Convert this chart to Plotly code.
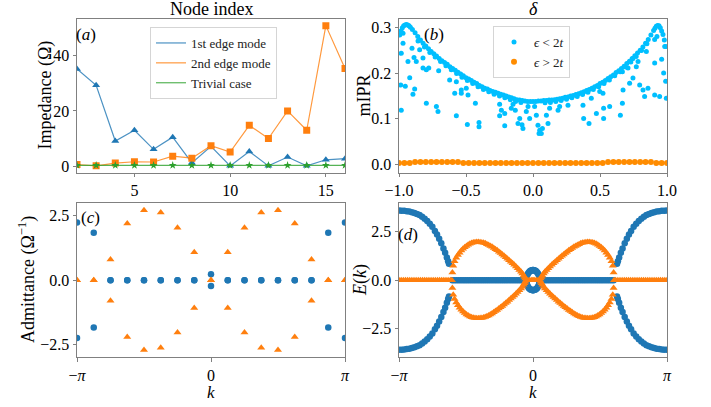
import numpy as np
import plotly.graph_objects as go

SERIF = "Liberation Serif"
PI = np.pi

# ---------------- Panel (a): impedance vs node index ----------------
node_index = [2, 3, 4, 5, 6, 7, 8, 9, 10, 11, 12, 13, 14, 15, 16]
z_edge1 = [35.2, 29.3, 9.1, 13.0, 6.1, 10.5, 1.2, 7.2, 0.1, 5.3, 0.1, 3.3, 0.1, 2.3, 2.7]
z_edge2 = [0.6, 0.1, 1.1, 1.6, 1.5, 3.6, 2.9, 7.4, 5.1, 14.8, 10.0, 20.0, 13.0, 50.9, 35.4]
z_trivial = [0.3, 0.3, 0.3, 0.3, 0.3, 0.3, 0.3, 0.3, 0.3, 0.3, 0.3, 0.3, 0.3, 0.3, 0.3]
legend_a = ["1st edge mode", "2nd edge mode", "Trivial case"]

# ---------------- Panel (b): mIPR vs delta ----------------
mipr_curve_delta = [-0.995, -0.985, -0.975, -0.965, -0.955, -0.945, -0.935, -0.925, -0.915, -0.90,
                    -0.88, -0.86, -0.84, -0.82, -0.80, -0.78, -0.76, -0.74, -0.72, -0.70,
                    -0.68, -0.66, -0.64, -0.62, -0.60, -0.58, -0.56, -0.54, -0.52, -0.50,
                    -0.48, -0.46, -0.44, -0.42, -0.40, -0.38, -0.36, -0.34, -0.32, -0.30,
                    -0.28, -0.26, -0.24, -0.22, -0.20, -0.18, -0.16, -0.14, -0.12, -0.10,
                    -0.08, -0.06, -0.04, -0.02,
                    0.00, 0.02, 0.04, 0.06, 0.08, 0.10, 0.12, 0.14, 0.16, 0.18,
                    0.20, 0.22, 0.24, 0.26, 0.28, 0.30, 0.32, 0.34, 0.36, 0.38,
                    0.40, 0.42, 0.44, 0.46, 0.48, 0.50, 0.52, 0.54, 0.56, 0.58,
                    0.60, 0.62, 0.64, 0.66, 0.68, 0.70, 0.72, 0.74, 0.76, 0.78,
                    0.80, 0.82, 0.84, 0.86, 0.88, 0.90, 0.91, 0.92, 0.93, 0.94,
                    0.95, 0.96, 0.97, 0.98, 0.99]
mipr_curve_val = [0.283, 0.292, 0.299, 0.303, 0.305, 0.306, 0.305, 0.303, 0.300, 0.295,
                  0.288, 0.280, 0.272, 0.265, 0.259, 0.253, 0.247, 0.242, 0.237, 0.232,
                  0.227, 0.223, 0.219, 0.214, 0.210, 0.206, 0.202, 0.198, 0.194, 0.190,
                  0.187, 0.184, 0.180, 0.177, 0.173, 0.170, 0.167, 0.165, 0.162, 0.160,
                  0.158, 0.156, 0.154, 0.152, 0.150, 0.148, 0.146, 0.144, 0.142, 0.141,
                  0.140, 0.139, 0.138, 0.138,
                  0.138, 0.138, 0.139, 0.139, 0.140, 0.140, 0.141, 0.141, 0.142, 0.143,
                  0.144, 0.145, 0.147, 0.148, 0.150, 0.151, 0.153, 0.155, 0.157, 0.159,
                  0.162, 0.164, 0.167, 0.170, 0.173, 0.177, 0.180, 0.184, 0.188, 0.192,
                  0.196, 0.201, 0.205, 0.210, 0.215, 0.221, 0.226, 0.232, 0.238, 0.244,
                  0.250, 0.257, 0.265, 0.273, 0.283, 0.293, 0.298, 0.302, 0.304, 0.303,
                  0.299, 0.292, 0.284, 0.272, 0.258]
mipr_band_delta = [-0.85, -0.81, -0.77, -0.73, -0.69, -0.65, -0.61, -0.57, -0.53, -0.49,
                   -0.45, -0.41, -0.37, -0.33, -0.29, -0.25, -0.21, -0.17, -0.13, -0.09,
                   0.09, 0.13, 0.17, 0.21, 0.25, 0.29, 0.33, 0.37, 0.41, 0.45,
                   0.49, 0.53, 0.57, 0.61, 0.65, 0.69, 0.73, 0.77, 0.81, 0.85]
mipr_band_val = [0.271, 0.257, 0.245, 0.235, 0.225, 0.216, 0.207, 0.199, 0.191, 0.184,
                 0.177, 0.170, 0.164, 0.159, 0.154, 0.150, 0.146, 0.142, 0.138, 0.136,
                 0.135, 0.136, 0.138, 0.140, 0.143, 0.146, 0.149, 0.153, 0.158, 0.164,
                 0.170, 0.177, 0.185, 0.194, 0.203, 0.213, 0.224, 0.236, 0.249, 0.264]
mipr_scatter_delta = [-0.970, -0.970, -0.983, -0.903, -0.933, -0.888, -0.858, -0.846, -0.871, -0.821,
                      -0.821, -0.796, -0.778, -0.704, -0.987, -0.953, -0.920, -0.883, -0.896, -0.983,
                      -0.796, -0.721, -0.709, -0.622, -0.572, -0.584, -0.535, -0.535, -0.498, -0.485,
                      -0.572, -0.430, -0.490, -0.403, -0.403, -0.211, -0.249, -0.236, -0.211, -0.249,
                      -0.162, -0.149, -0.132, -0.099, -0.112, -0.082, -0.075, -0.050, -0.037, -0.025,
                      0.012, 0.025, 0.037, 0.050, 0.062, 0.045, 0.070, 0.112, 0.100, 0.124,
                      0.187, 0.199, 0.261, 0.373, 0.378, 0.418, 0.435, 0.473, 0.527, 0.527,
                      0.572, 0.498, 0.522, 0.652, 0.667, 0.672, 0.667, 0.709, 0.746, 0.721,
                      0.796, 0.821, 0.858, 0.833, 0.908, 0.945, 0.746, 0.784, 0.771, 0.908,
                      0.846, 0.908, 0.925, 0.983, 0.990, 0.995, 0.960, 0.975]
mipr_scatter_val = [0.287, 0.265, 0.243, 0.254, 0.225, 0.234, 0.270, 0.251, 0.225, 0.233,
                    0.211, 0.207, 0.211, 0.205, 0.174, 0.171, 0.190, 0.165, 0.154, 0.119,
                    0.134, 0.127, 0.116, 0.185, 0.181, 0.156, 0.163, 0.156, 0.167, 0.152,
                    0.107, 0.134, 0.088, 0.092, 0.083, 0.085, 0.132, 0.119, 0.112, 0.107,
                    0.123, 0.132, 0.119, 0.101, 0.090, 0.087, 0.079, 0.116, 0.127, 0.101,
                    0.127, 0.108, 0.086, 0.075, 0.068, 0.068, 0.079, 0.090, 0.108, 0.123,
                    0.119, 0.127, 0.130, 0.130, 0.101, 0.090, 0.145, 0.112, 0.123, 0.101,
                    0.127, 0.160, 0.156, 0.108, 0.134, 0.163, 0.203, 0.211, 0.189, 0.178,
                    0.174, 0.163, 0.167, 0.149, 0.152, 0.149, 0.232, 0.225, 0.214, 0.222,
                    0.247, 0.273, 0.280, 0.258, 0.182, 0.145, 0.230, 0.200]
mipr_ext_delta = [-1.00, -0.96, -0.92, -0.88, -0.84, -0.80, -0.76, -0.72, -0.68, -0.64,
                  -0.60, -0.56, -0.52, -0.48, -0.44, -0.40, -0.36, -0.32, -0.28, -0.24,
                  -0.20, -0.16, -0.12, -0.08, -0.04, 0.00, 0.04, 0.08, 0.12, 0.16,
                  0.20, 0.24, 0.28, 0.32, 0.36, 0.40, 0.44, 0.48, 0.52, 0.56,
                  0.60, 0.64, 0.68, 0.72, 0.76, 0.80, 0.84, 0.88, 0.92, 0.96, 1.00]
mipr_ext_val = [0.004, 0.004, 0.004, 0.006, 0.006, 0.006, 0.006, 0.006, 0.006, 0.006,
                0.006, 0.006, 0.004, 0.004, 0.004, 0.004, 0.004, 0.004, 0.004, 0.004,
                0.004, 0.004, 0.004, 0.004, 0.004, 0.004, 0.004, 0.004, 0.004, 0.004,
                0.004, 0.004, 0.004, 0.004, 0.004, 0.004, 0.004, 0.004, 0.004, 0.006,
                0.006, 0.006, 0.006, 0.006, 0.006, 0.006, 0.006, 0.006, 0.004, 0.004, 0.004]
legend_b = ["<i>ϵ</i> < 2<i>t</i>", "<i>ϵ</i> > 2<i>t</i>"]

# ---------------- Panel (c): admittance spectrum ----------------
k_c_index = [-8, -7, -6, -5, -4, -3, -2, -1, 0, 1, 2, 3, 4, 5, 6, 7, 8]   # k = n*pi/8
y_c_blue = [2.24, 1.84, 0.0, 0.0, 0.0, 0.0, 0.0, 0.0, 0.23, 0.0, 0.0, 0.0, 0.0, 0.0, 0.0, 1.84, 2.24]
y_c_orange = [0.0, 0.0, 0.80, 2.20, 2.71, 2.62, 2.03, 1.08, 0.0, 1.08, 2.03, 2.62, 2.71, 2.20, 0.80, 0.0, 0.0]

# ---------------- Panel (d): E(k), upper-left quadrant (mirrored) ----------------
d_blue_outer_k = [-3.14, -3.08, -3.02, -2.96, -2.90, -2.84, -2.78, -2.72, -2.66, -2.60, -2.54, -2.48,
                  -2.42, -2.36, -2.30, -2.25, -2.20, -2.15, -2.10, -2.06, -2.02, -1.99, -1.97]
d_blue_outer_e = [3.60, 3.59, 3.58, 3.56, 3.54, 3.51, 3.47, 3.42, 3.36, 3.27, 3.17, 3.05,
                  2.91, 2.76, 2.54, 2.36, 2.14, 1.90, 1.64, 1.42, 1.17, 0.98, 0.85]
d_blue_zero_k = [-1.89, -1.84, -1.79, -1.74, -1.69, -1.64, -1.59, -1.54, -1.49, -1.44, -1.39, -1.34,
                 -1.29, -1.24, -1.19, -1.14, -1.09, -1.04, -0.99, -0.94, -0.89, -0.84, -0.79, -0.74,
                 -0.69, -0.64, -0.59, -0.54, -0.49, -0.44, -0.39, -0.34, -0.29, -0.24, -0.19, -0.16]
d_blue_ring_k = [-0.155, -0.15, -0.14, -0.12, -0.10, -0.08, -0.06, -0.04, -0.02, 0.0]
d_blue_ring_e = [0.0, 0.13, 0.22, 0.33, 0.40, 0.445, 0.48, 0.50, 0.515, 0.52]
d_orange_arc_k = [-1.89, -1.87, -1.84, -1.80, -1.76, -1.72, -1.68, -1.64, -1.60, -1.56, -1.52, -1.48,
                  -1.44, -1.40, -1.36, -1.32, -1.28, -1.24, -1.20, -1.16, -1.12, -1.08, -1.04, -1.00,
                  -0.96, -0.92, -0.88, -0.84, -0.80, -0.76, -0.72, -0.68, -0.64, -0.60, -0.56, -0.52,
                  -0.48, -0.44, -0.40, -0.36, -0.32, -0.28, -0.25, -0.22, -0.20, -0.18]
d_orange_arc_e = [0.40, 0.75, 0.98, 1.16, 1.30, 1.42, 1.53, 1.62, 1.70, 1.77, 1.83, 1.88,
                  1.92, 1.94, 1.96, 1.97, 1.97, 1.96, 1.95, 1.93, 1.90, 1.86, 1.82, 1.77,
                  1.72, 1.66, 1.60, 1.54, 1.47, 1.40, 1.33, 1.26, 1.18, 1.11, 1.03, 0.95,
                  0.87, 0.79, 0.70, 0.61, 0.52, 0.43, 0.34, 0.24, 0.16, 0.08]
d_orange_zero_k = [-3.14, -3.09, -3.04, -2.99, -2.94, -2.89, -2.84, -2.79, -2.74, -2.69, -2.64, -2.59,
                   -2.54, -2.49, -2.44, -2.39, -2.34, -2.29, -2.24, -2.19, -2.14, -2.09, -2.04, -1.99,
                   -1.94, -1.90, -0.16, -0.12, -0.08, -0.04, 0.0]


def mirror4(ks, es):
    """Mirror an upper-left-quadrant branch into all four quadrants."""
    kk = list(ks) + [-v for v in ks] + list(ks) + [-v for v in ks]
    ee = list(es) + list(es) + [-v for v in es] + [-v for v in es]
    return kk, ee


def mirror_k(ks):
    return list(ks) + [-v for v in ks]


TAB_BLUE = "#1f77b4"
TAB_ORANGE = "#ff7f0e"
TAB_GREEN = "#2ca02c"
SKY = "#00bfff"
DORANGE = "#ff8c00"

fig = go.Figure()

# ---- (a)
line_cols = ["rgba(31,119,180,0.8)", "rgba(255,127,14,0.8)", "rgba(44,160,44,0.8)"]
mk_cols = [TAB_BLUE, TAB_ORANGE, TAB_GREEN]
symbols = ["triangle-up", "square", "star"]
sizes = [7, 7, 6]
for ys, name, lc, mc, sym, sz in zip([z_edge1, z_edge2, z_trivial], legend_a, line_cols, mk_cols, symbols, sizes):
    fig.add_trace(go.Scatter(x=node_index, y=ys, mode="lines", name=name,
                             line=dict(color=lc, width=1.2), xaxis="x", yaxis="y", legend="legend"))
    fig.add_trace(go.Scatter(x=node_index, y=ys, mode="markers", showlegend=False,
                             marker=dict(color=mc, symbol=sym, size=sz, line=dict(width=0)),
                             xaxis="x", yaxis="y"))

# ---- (b)
fig.add_trace(go.Scatter(x=mipr_curve_delta + mipr_band_delta + mipr_scatter_delta,
                         y=mipr_curve_val + mipr_band_val + mipr_scatter_val,
                         mode="markers", name=legend_b[0],
                         marker=dict(color=SKY, size=5, line=dict(width=0)),
                         xaxis="x2", yaxis="y2", legend="legend2"))
fig.add_trace(go.Scatter(x=mipr_ext_delta, y=mipr_ext_val, mode="markers", name=legend_b[1],
                         marker=dict(color=DORANGE, size=6, line=dict(width=0)),
                         xaxis="x2", yaxis="y2", legend="legend2"))

# ---- (c)
k_c = [n * PI / 8 for n in k_c_index]
fig.add_trace(go.Scatter(x=k_c + k_c, y=y_c_blue + [-v for v in y_c_blue], mode="markers", showlegend=False,
                         marker=dict(color=TAB_BLUE, symbol="circle", size=6.5, line=dict(width=0)),
                         xaxis="x3", yaxis="y3"))
fig.add_trace(go.Scatter(x=k_c + k_c, y=y_c_orange + [-v for v in y_c_orange], mode="markers", showlegend=False,
                         marker=dict(color=TAB_ORANGE, symbol="triangle-up", size=7, line=dict(width=0)),
                         xaxis="x3", yaxis="y3"))

# ---- (d)
bk, be = mirror4(d_blue_outer_k, d_blue_outer_e)
rk, re_ = mirror4(d_blue_ring_k, d_blue_ring_e)
zk = mirror_k(d_blue_zero_k)
fig.add_trace(go.Scatter(x=bk + rk + zk, y=be + re_ + [0.0] * len(zk), mode="markers", showlegend=False,
                         marker=dict(color=TAB_BLUE, symbol="circle", size=6.5, line=dict(width=0)),
                         xaxis="x4", yaxis="y4"))
ak, ae = mirror4(d_orange_arc_k, d_orange_arc_e)
ozk = mirror_k(d_orange_zero_k)
fig.add_trace(go.Scatter(x=ak + ozk, y=ae + [0.0] * len(ozk), mode="markers", showlegend=False,
                         marker=dict(color=TAB_ORANGE, symbol="triangle-up", size=7, line=dict(width=0)),
                         xaxis="x4", yaxis="y4"))

W, H = 711, 407


def px_x(p):
    return p / W


def px_y(p):
    return 1 - p / H


common = dict(showline=True, mirror=True, linecolor="#808080", linewidth=1, ticks="outside",
              ticklen=3.5, tickcolor="#808080", tickwidth=1, showgrid=False, zeroline=False,
              automargin=False,
              tickfont=dict(family=SERIF, size=16, color="black"))

dom_left = [px_x(77), px_x(345)]
dom_right = [px_x(399), px_x(667)]
dom_top = [px_y(172.5), px_y(19)]
dom_bot = [px_y(357), px_y(203.3)]

fig.update_layout(
    width=W, height=H, margin=dict(l=0, r=0, t=0, b=0, pad=0, autoexpand=False),
    paper_bgcolor="white", plot_bgcolor="white",
    font=dict(family=SERIF, size=16, color="black"),
    xaxis=dict(domain=dom_left, anchor="y", range=[2, 16], tickvals=[5, 10, 15], **common),
    yaxis=dict(domain=dom_top, anchor="x", range=[-2.3, 53.3], tickvals=[0, 20, 40], **common),
    xaxis2=dict(domain=dom_right, anchor="y2", range=[-1, 1], tickvals=[-1, -0.5, 0, 0.5, 1],
                tickformat=".1f", **common),
    yaxis2=dict(domain=dom_top, anchor="x2", range=[-0.017, 0.318], tickvals=[0, 0.1, 0.2, 0.3],
                tickformat=".1f", **common),
    xaxis3=dict(domain=dom_left, anchor="y3", range=[-PI, PI], tickvals=[-PI, 0, PI],
                ticktext=["−<i>π</i>", "0", "<i>π</i>"], **common),
    yaxis3=dict(domain=dom_bot, anchor="x3", range=[-2.98, 2.98], tickvals=[-2.5, 0, 2.5],
                tickformat=".1f", **common),
    xaxis4=dict(domain=dom_right, anchor="y4", range=[-PI, PI], tickvals=[-PI, 0, PI],
                ticktext=["−<i>π</i>", "0", "<i>π</i>"], **common),
    yaxis4=dict(domain=dom_bot, anchor="x4", range=[-3.97, 3.97], tickvals=[-2.5, 0, 2.5],
                tickformat=".1f", **common),
    legend=dict(x=px_x(150), y=px_y(27), xanchor="left", yanchor="top",
                bgcolor="rgba(255,255,255,0.85)", bordercolor="#d5d5d5", borderwidth=1,
                font=dict(family=SERIF, size=13, color="#222"), itemwidth=30, tracegroupgap=0),
    legend2=dict(x=px_x(493), y=px_y(26), xanchor="left", yanchor="top",
                 bgcolor="rgba(255,255,255,0.85)", bordercolor="#d5d5d5", borderwidth=1,
                 font=dict(family=SERIF, size=13, color="#222"), itemwidth=30, tracegroupgap=0),
    showlegend=True,
)

ann = []


def add_text(text, x, y, size=18, angle=0, xanchor="center", yanchor="middle"):
    ann.append(dict(text=text, x=x, y=y, xref="paper", yref="paper", showarrow=False,
                    font=dict(family=SERIF, size=size, color="black"), textangle=angle,
                    xanchor=xanchor, yanchor=yanchor))


add_text("Node index", px_x(211), px_y(9.5))
add_text("<i>δ</i>", px_x(533), px_y(9.5))
add_text("Impedance (Ω)", px_x(45), px_y(95.5), angle=-90)
add_text("mIPR", px_x(363), px_y(95.5), angle=-90)
add_text("Admittance (Ω<sup>−1</sup>)", px_x(27), px_y(280), angle=-90)
add_text("<i>E</i>(<i>k</i>)", px_x(360), px_y(280), angle=-90)
add_text("<i>k</i>", px_x(211), px_y(392.5), size=17)
add_text("<i>k</i>", px_x(533), px_y(392.5), size=17)
add_text("(<i>a</i>)", px_x(85.5), px_y(35), size=17)
add_text("(<i>b</i>)", px_x(433.5), px_y(35), size=17)
add_text("(<i>c</i>)", px_x(90), px_y(217), size=17)
add_text("(<i>d</i>)", px_x(408), px_y(234), size=17)
fig.update_layout(annotations=ann)

fig.write_html("out.html", config={"displayModeBar": False},
               post_script="document.body.style.margin='0';document.body.style.padding='0';")
